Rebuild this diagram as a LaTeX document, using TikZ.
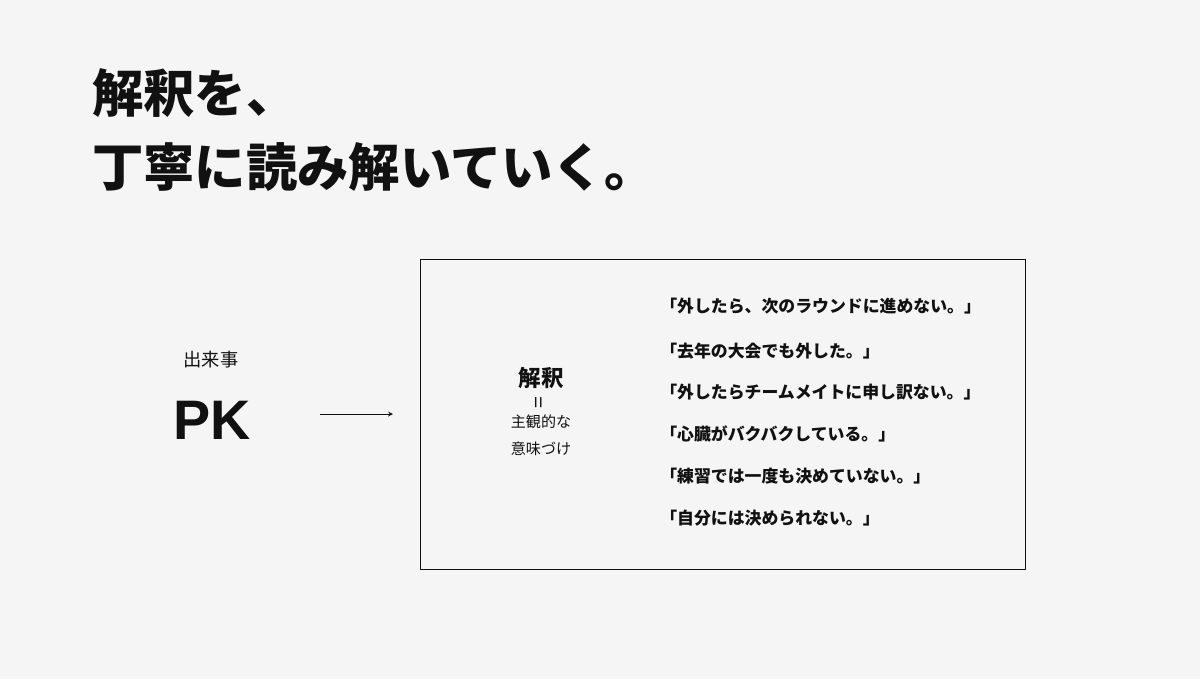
\documentclass[tikz,border=0pt]{standalone}
\usepackage{fontspec}
\setmainfont{Noto Sans CJK JP}
\newfontfamily\pkfont{Liberation Sans}
\usetikzlibrary{positioning}
\definecolor{bgcol}{HTML}{F5F5F5}
\definecolor{ink}{HTML}{111111}
\begin{document}
\begin{tikzpicture}[x=0.025cm,y=-0.025cm]
                \tikzset{>=stealth}
                \tikzset{title/.style={anchor=west,inner sep=0pt,text=ink,font=\fontsize{36.5}{40}\selectfont\bfseries}}
                \tikzset{quote/.style={anchor=west,inner sep=0pt,text=ink,font=\fontsize{12}{14}\selectfont\bfseries}}
                \tikzset{small/.style={inner sep=0pt,text=ink,font=\fontsize{10.7}{13}\selectfont}}
                \fill[bgcol] (0,0) rectangle (1200,679);
                \useasboundingbox (0,0) rectangle (1200,679);

                \node[title] (title1) at (92,93) {解釈を、};
                \node[title] (title2) at (92,167) {丁寧に読み解いていく。};

                \node[inner sep=0pt,text=ink,font=\fontsize{13}{15}\selectfont] (event) at (211,360) {出来事};
                \node[inner sep=0pt,text=ink,font=\pkfont\fontsize{39.6}{42}\selectfont\bfseries] (pk) at (212,420) {PK};

                \coordinate (arrS) at (320,414);
                \coordinate (arrE) at (393,414);
                \draw[->,ink,line width=0.6pt] (arrS) -- (arrE);

                \node[draw=ink,line width=0.8pt,anchor=north west,minimum width=15.125cm,minimum height=7.75cm] (box) at (420,259) {};

                \node[inner sep=0pt,text=ink,font=\fontsize{16}{18}\selectfont\bfseries] (interp) at (541,378) {解釈};
                \node[inner sep=0pt,text=ink,font=\fontsize{15}{16}\selectfont,rotate=90] (eq) at (541,403) {=};
                \node[small] (subj) at (541,422) {主観的な};
                \node[small] (mean) at (541,449) {意味づけ};

                \node[quote] (q1) at (660,306) {「外したら、次のラウンドに進めない。」};
                \node[quote] (q2) at (660,351) {「去年の大会でも外した。」};
                \node[quote] (q3) at (660,392) {「外したらチームメイトに申し訳ない。」};
                \node[quote] (q4) at (660,434) {「心臓がバクバクしている。」};
                \node[quote] (q5) at (660,476) {「練習では一度も決めていない。」};
                \node[quote] (q6) at (660,518) {「自分には決められない。」};
\end{tikzpicture}
\end{document}
